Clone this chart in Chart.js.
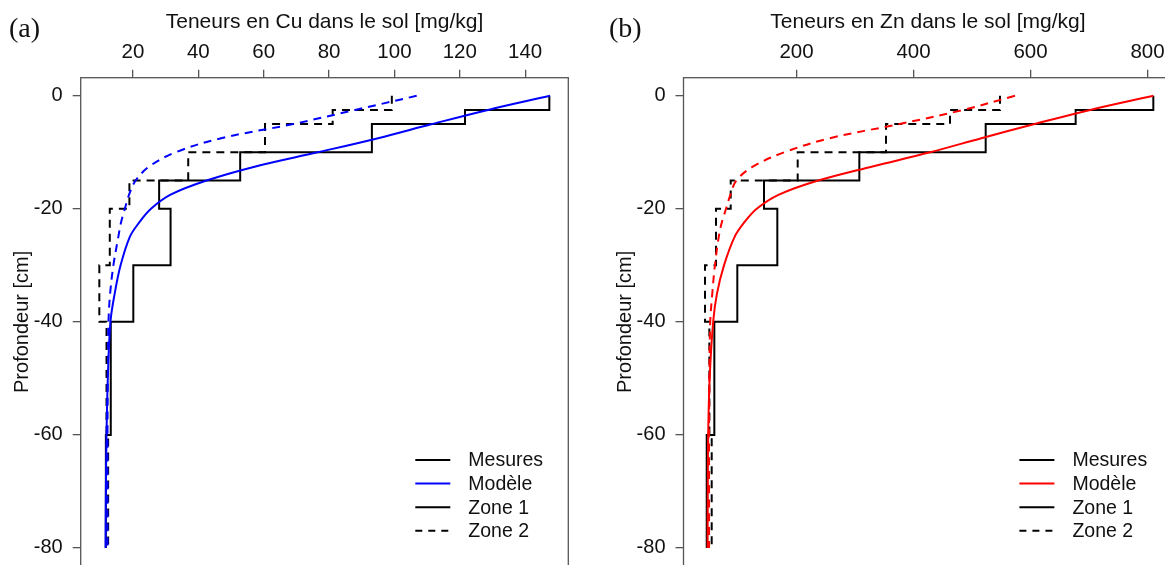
<!DOCTYPE html>
<html>
<head>
<meta charset="utf-8">
<script src="https://cdn.jsdelivr.net/npm/chart.js@4.4.1/dist/chart.umd.min.js"></script>
<style>
  html, body { margin: 0; padding: 0; background: #fff; overflow: hidden; width: 1165px; height: 565px; }
  canvas { position: absolute; top: 0; }
  #chartCu { left: 0; }
  #chartZn { left: 580px; }
</style>
</head>
<body>
<canvas id="chartCu" width="580" height="600"></canvas>
<canvas id="chartZn" width="600" height="600"></canvas>
<script>
// layer boundaries of the soil samples (cm)
const layerDepths = [0, -2.5, -5, -10, -15, -20, -30, -40, -60, -80];
// depths where the model profile is read
const modelDepths = [0, -2.5, -5, -7.5, -10, -12.5, -15, -17.5, -20, -22.5, -25, -30, -35, -40, -50, -60, -70, -80];
const depthTicks = [0, -20, -40, -60, -80];

// Cu (mg/kg)
const cuTicks = [20, 40, 60, 80, 100, 120, 140];
const cuZone1 = [147.4, 121.6, 93.1, 52.8, 28.0, 31.5, 20.1, 13.2, 11.7];
const cuZone2 = [99.2, 81.1, 60.4, 36.9, 18.9, 12.9, 9.7, 11.9, 12.4];
const cuModel1 = [147.6, 128.6, 111.5, 95, 76.5, 57.5, 42.5, 31.5, 25.5, 21.8, 19, 16.2, 14.4, 13.1, 12.3, 11.9, 11.7, 11.6];
const cuModel2 = [106.8, 88, 69, 47, 33, 25, 20.8, 18.8, 17.5, 16.3, 15.5, 14.0, 13.0, 12.5, 12.3, 12.2, 12.2, 12.2];

// Zn (mg/kg)
const znTicks = [200, 400, 600, 800];
const znZone1 = [810, 677.2, 523.4, 307.4, 144.4, 167.2, 98.8, 59.5, 46.5];
const znZone2 = [547.9, 462.4, 353, 202, 87.5, 62.4, 43.6, 51, 55];
const znModel1 = [810, 702, 607, 516, 428, 330, 237, 170, 132, 110, 94, 76, 64, 57.5, 51.5, 49, 48.3, 48];
const znModel2 = [573.5, 485, 376, 257, 179, 126, 97, 87, 79.5, 72, 67, 60.5, 56, 52.5, 51, 50.5, 50.5, 50.5];

const legendLabels = ['Mesures', 'Modèle', 'Zone 1', 'Zone 2'];

const SANS = "'Liberation Sans', Arial, sans-serif";
const AXIS_COLOR = '#555';

function steps(values) {
  const pts = [];
  values.forEach((v, i) => {
    pts.push({ x: v, y: layerDepths[i] }, { x: v, y: layerDepths[i + 1] });
  });
  return pts;
}

function curve(values) {
  return values.map((v, i) => ({ x: v, y: modelDepths[i] }));
}

function line(data, color, dashed, tension) {
  return {
    data: data,
    showLine: true,
    borderColor: color,
    borderWidth: 2,
    borderDash: dashed ? [8, 6] : [],
    pointRadius: 0,
    fill: false,
    tension: tension || 0
  };
}

// frame, panel letter and legend like the R figure
const panelDecor = {
  id: 'panelDecor',
  afterDraw(chart, args, o) {
    const { ctx, chartArea } = chart;
    ctx.save();
    ctx.strokeStyle = AXIS_COLOR;
    ctx.lineWidth = 1.3;
    ctx.strokeRect(chartArea.left, chartArea.top, chartArea.right - chartArea.left, chartArea.bottom - chartArea.top);

    ctx.fillStyle = '#111';
    ctx.font = "28px 'Liberation Serif', 'Times New Roman', serif";
    ctx.textBaseline = 'alphabetic';
    ctx.textAlign = 'left';
    ctx.fillText(o.letter, o.letterX, 37);

    const colors = ['#000', o.color, '#000', '#000'];
    ctx.font = '19.5px ' + SANS;
    ctx.textBaseline = 'middle';
    legendLabels.forEach((label, i) => {
      const y = chartArea.bottom - 106 + i * 23.6;
      ctx.beginPath();
      ctx.strokeStyle = colors[i];
      ctx.lineWidth = 2;
      ctx.setLineDash(i === 3 ? [7, 6] : []);
      ctx.moveTo(chartArea.right - 153, y);
      ctx.lineTo(chartArea.right - 118, y);
      ctx.stroke();
      ctx.setLineDash([]);
      ctx.fillStyle = '#111';
      ctx.fillText(label, chartArea.right - 100, y + 1);
    });
    ctx.restore();
  }
};

function makePanel(id, p) {
  return new Chart(document.getElementById(id), {
    type: 'scatter',
    data: {
      datasets: [
        line(curve(p.model1), p.color, false, 0.35),
        line(curve(p.model2), p.color, true, 0.35),
        line(steps(p.zone1), '#000', false),
        line(steps(p.zone2), '#000', true)
      ]
    },
    options: {
      responsive: false,
      animation: false,
      layout: { padding: { left: 0, top: 0, right: p.padRight, bottom: p.padBottom } },
      plugins: {
        legend: { display: false },
        tooltip: { enabled: false },
        panelDecor: { letter: p.letter, letterX: p.letterX, color: p.color }
      },
      scales: {
        x: {
          type: 'linear',
          position: 'top',
          min: p.xMin,
          max: p.xMax,
          afterFit: s => { s.height = 77.7; },
          afterBuildTicks: s => { s.ticks = p.xTicks.map(v => ({ value: v })); },
          border: { display: false },
          grid: { drawOnChartArea: false, drawTicks: true, tickLength: 8, color: AXIS_COLOR, lineWidth: 1.3 },
          ticks: { padding: 5, color: '#111', font: { family: SANS, size: 20.5 }, maxRotation: 0, callback: v => String(v) },
          title: { display: true, text: p.xTitle, color: '#111', font: { family: SANS, size: 21 }, padding: { top: 10, bottom: 0 } }
        },
        y: {
          type: 'linear',
          min: -83.2,
          max: 3.2,
          afterFit: s => { s.width = p.yWidth; },
          afterBuildTicks: s => { s.ticks = depthTicks.map(v => ({ value: v })); },
          border: { display: false },
          grid: { drawOnChartArea: false, drawTicks: true, tickLength: 8, color: AXIS_COLOR, lineWidth: 1.3 },
          ticks: { padding: 10, color: '#111', font: { family: SANS, size: 20 }, callback: v => String(v) },
          title: { display: true, text: 'Profondeur [cm]', color: '#111', font: { family: SANS, size: 20 }, padding: { top: p.yTitlePad, bottom: 0 } }
        }
      }
    },
    plugins: [panelDecor]
  });
}

makePanel('chartCu', {
  letter: '(a)', letterX: 9, color: '#0000FF',
  xTitle: 'Teneurs en Cu dans le sol [mg/kg]',
  xMin: 4.0, xMax: 153.2, xTicks: cuTicks,
  zone1: cuZone1, zone2: cuZone2, model1: cuModel1, model2: cuModel2,
  yWidth: 80.7, yTitlePad: 10, padRight: 11.7, padBottom: 34
});

makePanel('chartZn', {
  letter: '(b)', letterX: 29, color: '#FF0000',
  xTitle: 'Teneurs en Zn dans le sol [mg/kg]',
  xMin: 6.8, xMax: 842.6, xTicks: znTicks,
  zone1: znZone1, zone2: znZone2, model1: znModel1, model2: znModel2,
  yWidth: 103.5, yTitlePad: 33, padRight: 7.6, padBottom: 34
});
</script>
</body>
</html>
